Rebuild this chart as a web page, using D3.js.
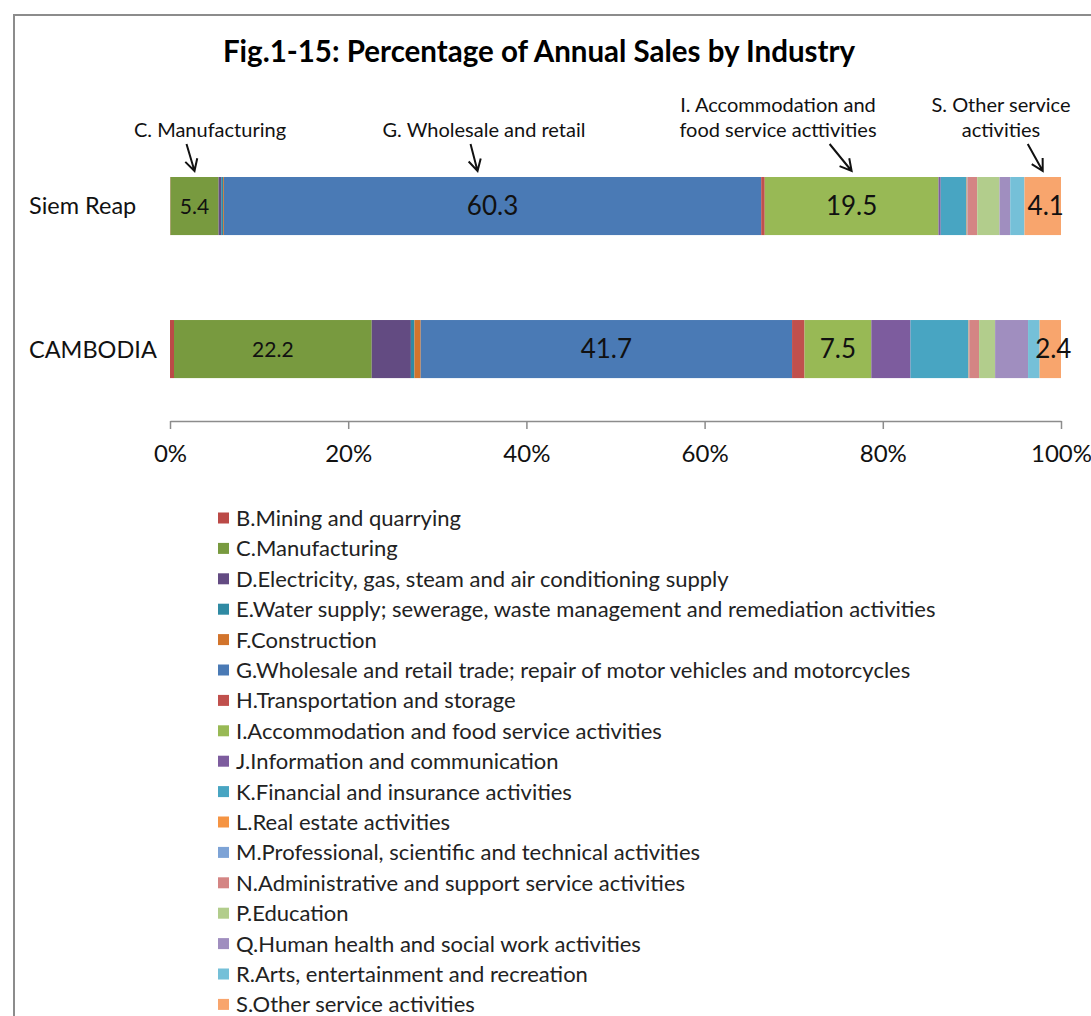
<!DOCTYPE html>
<html>
<head>
<style>
  body {
    margin: 0;
    background-color: #ffffff;
  }

  .chart text {
    font-family: Lato, "Open Sans", sans-serif;
  }
</style>
  <script src="https://d3js.org/d3.v7.min.js"></script>
</head>
<body>
<script>
// 100% stacked horizontal bar - annual sales share by industry

const regions = ['Siem Reap', 'CAMBODIA'];

const industries = [
  'B.Mining and quarrying',
  'C.Manufacturing',
  'D.Electricity, gas, steam and air conditioning supply',
  'E.Water supply; sewerage, waste management and remediation activities',
  'F.Construction',
  'G.Wholesale and retail trade; repair of motor vehicles and motorcycles',
  'H.Transportation and storage',
  'I.Accommodation and food service activities',
  'J.Information and communication',
  'K.Financial and insurance activities',
  'L.Real estate activities',
  'M.Professional, scientific and technical activities',
  'N.Administrative and support service activities',
  'P.Education',
  'Q.Human health and social work activities',
  'R.Arts, entertainment and recreation',
  'S.Other service activities',
];

const colors = [
  '#bb4a47', '#789a3f', '#634b82', '#2f8aa3', '#d2742c', '#4a7ab5',
  '#c0504d', '#98b955', '#7d5c9e', '#48a5c2', '#f59443', '#7da3d6',
  '#d48584', '#b2cd8c', '#a08ebf', '#75c0d8', '#f8a56d',
];

// percent
const siemReap = [0.05, 5.4, 0.3, 0.2, 0.1, 60.3, 0.4, 19.5, 0.25, 2.9, 0.05, 0.05, 1.1, 2.5, 1.2, 1.6, 4.1];
const cambodia = [0.45, 22.2, 4.4, 0.4, 0.7, 41.7, 1.4, 7.5, 4.4, 6.5, 0.05, 0.05, 1.1, 1.8, 3.7, 1.3, 2.4];
const seriesByRegion = [siemReap, cambodia];

// which segments carry a value label
const labelled = ['C.Manufacturing', 'G.Wholesale and retail trade; repair of motor vehicles and motorcycles',
  'I.Accommodation and food service activities', 'S.Other service activities'];

const xTicks = [0, 0.2, 0.4, 0.6, 0.8, 1];

const callouts = [
  { lines: ['C. Manufacturing'], series: 1 },
  { lines: ['G. Wholesale and retail'], series: 5 },
  { lines: ['I. Accommodation and', 'food service acttivities'], series: 7 },
  { lines: ['S. Other service', 'activities'], series: 16 },
];

const width = 1091;
const height = 1016;

const svg = d3.select('body')
  .append('svg')
  .attr('class', 'chart')
  .attr('width', width)
  .attr('height', height);

// frame around the chart area
svg.append('path')
  .attr('d', `M14,${height} L14,15 L${width},15`)
  .attr('fill', 'none')
  .attr('stroke', '#8c8c8c')
  .attr('stroke-width', 2);

svg.append('text')
  .attr('x', 539)
  .attr('y', 62)
  .attr('text-anchor', 'middle')
  .attr('font-size', 29.5)
  .attr('font-weight', 'bold')
  .attr('fill', '#000')
  .text('Fig.1-15: Percentage of Annual Sales by Industry');

const x = d3.scaleLinear().domain([0, 1]).range([170, 1061]);
const y = d3.scaleBand().domain(regions).range([162.7, 392.4]).paddingInner(0.594).paddingOuter(0.1);

// build stacked rows, normalised to 100%
const rows = regions.map((region, ri) => {
  const vals = seriesByRegion[ri];
  const total = d3.sum(vals);
  let acc = 0;
  return vals.map((v, si) => {
    const seg = { region, si, value: v, x0: acc / total, x1: (acc + v) / total };
    acc += v;
    return seg;
  });
});

const bars = svg.append('g');
rows.forEach(row => {
  bars.selectAll(null)
    .data(row)
    .join('rect')
    .attr('x', d => x(d.x0))
    .attr('y', d => y(d.region))
    .attr('width', d => Math.max(0, x(d.x1) - x(d.x0)))
    .attr('height', y.bandwidth())
    .attr('fill', d => colors[d.si]);

  bars.selectAll(null)
    .data(row.filter(d => labelled.includes(industries[d.si])))
    .join('text')
    .attr('x', d => (x(d.x0) + x(d.x1)) / 2 + (d.si === 16 ? 3 : 0))
    .attr('y', d => y(d.region) + y.bandwidth() / 2)
    .attr('dy', '0.36em')
    .attr('text-anchor', 'middle')
    .attr('font-size', d => d.si === 1 ? 21 : 26)
    .attr('fill', '#111')
    .text(d => d.value.toFixed(1));
});

// category labels
svg.append('g')
  .selectAll('text')
  .data(regions)
  .join('text')
  .attr('x', 29)
  .attr('y', d => y(d) + y.bandwidth() / 2)
  .attr('dy', '0.36em')
  .attr('font-size', 23.5)
  .attr('fill', '#111')
  .text(d => d);

// x axis
const axis = svg.append('g')
  .attr('transform', 'translate(0,421)')
  .call(d3.axisBottom(x).tickValues(xTicks).tickFormat(d3.format('.0%')).tickSizeInner(8).tickSizeOuter(0).tickPadding(16));
axis.select('.domain').attr('stroke', '#8c8c8c').attr('stroke-width', 1.5);
axis.selectAll('.tick line').attr('stroke', '#8c8c8c').attr('stroke-width', 1.5);
axis.selectAll('.tick text').attr('font-size', 24).attr('fill', '#111');

// callouts with hand drawn style arrows
const siemRow = rows[0];
const callG = svg.append('g');
callouts.forEach(c => {
  const seg = siemRow[c.series];
  const tipX = (x(seg.x0) + x(seg.x1)) / 2 - (c.series === 5 ? 15 : 0);
  const tipY = y(regions[0]) - 6;
  const dx = c.series === 1 ? -8 : (c.series === 5 ? -7 : (c.series === 7 ? -22 : -15));
  const tailX = tipX + dx;
  const tailY = tipY - 27;
  const textX = c.series === 1 ? 210 : (c.series === 5 ? 484 : (c.series === 7 ? 778 : 1001));
  const firstY = c.lines.length === 2 ? 112 : 137;

  c.lines.forEach((line, i) => {
    callG.append('text')
      .attr('x', textX)
      .attr('y', firstY + i * 25)
      .attr('text-anchor', 'middle')
      .attr('font-size', 20)
      .attr('fill', '#111')
      .text(line);
  });

  const ang = Math.atan2(tipY - tailY, tipX - tailX);
  const head = 13;
  const spread = 0.5;
  const p1 = [tipX - head * Math.cos(ang - spread), tipY - head * Math.sin(ang - spread)];
  const p2 = [tipX - head * Math.cos(ang + spread), tipY - head * Math.sin(ang + spread)];
  callG.append('path')
    .attr('d', `M${tailX},${tailY} L${tipX},${tipY} M${p1[0]},${p1[1]} L${tipX},${tipY} L${p2[0]},${p2[1]}`)
    .attr('fill', 'none')
    .attr('stroke', '#111')
    .attr('stroke-width', 2);
});

// legend
const legend = svg.append('g')
  .selectAll('g')
  .data(industries)
  .join('g')
  .attr('transform', (d, i) => `translate(218,${518 + i * 30.4})`);

legend.append('rect')
  .attr('x', 0)
  .attr('y', -5.5)
  .attr('width', 11)
  .attr('height', 11)
  .attr('fill', (d, i) => colors[i]);

legend.append('text')
  .attr('x', 18)
  .attr('dy', '0.36em')
  .attr('font-size', 22)
  .attr('fill', '#222')
  .text(d => d);
</script>
</body>
</html>
